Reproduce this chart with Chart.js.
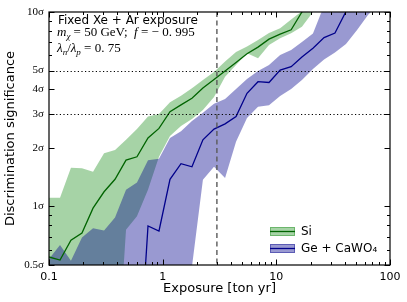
<!DOCTYPE html>
<html>
<head>
<meta charset="utf-8">
<script src="https://cdn.jsdelivr.net/npm/chart.js@4.4.1/dist/chart.umd.min.js"></script>
<style>
  html, body { margin: 0; padding: 0; background: #fff; }
  #wrap { width: 407px; height: 302px; }
</style>
</head>
<body>
<div id="wrap"><canvas id="chart" width="407" height="302"></canvas></div>
<script>
// exposure grid [ton yr], log spaced
const exposure = [0.1, 0.125, 0.156, 0.195, 0.244, 0.305, 0.381, 0.476, 0.594, 0.743,
  0.928, 1.16, 1.45, 1.81, 2.26, 2.83, 3.54, 4.42, 5.52, 6.90,
  8.62, 10.8, 13.5, 16.8, 21.0, 26.3, 32.8, 41.0, 51.3, 64.0, 80.0, 100];

// Si band (significance in sigma)
const siHigh = [1.11, 1.11, 1.58, 1.57, 1.51, 1.88, 1.95, 2.20, 2.50, 2.90,
  2.99, 3.43, 3.71, 4.05, 4.47, 4.92, 5.57, 6.23, 6.65, 7.18,
  7.80, 8.25, 9.15, 10.1, 11.5, 13.0];
const siMedian = [0.55, 0.53, 0.67, 0.73, 0.98, 1.19, 1.38, 1.73, 1.80, 2.25,
  2.52, 3.07, 3.33, 3.60, 4.07, 4.50, 4.97, 5.50, 6.10, 6.60,
  7.25, 7.70, 8.10, 10.0, 11.5, 13.0];
const siLow = [0.3, 0.3, 0.3, 0.3, 0.3, 0.3, 0.1, 0.76, 0.89, 1.22,
  1.80, 2.30, 2.59, 2.82, 3.13, 3.66, 4.65, 5.34, 6.13, 5.78,
  6.77, 7.33, 7.77, 8.40, 10.0, 11.5];

// Ge + CaWO4 band
const geHigh = [0.537, 0.634, 0.526, 0.693, 0.773, 0.753, 0.878, 1.22, 1.33, 1.73,
  1.76, 2.25, 2.44, 2.75, 3.03, 3.37, 3.57, 4.02, 4.52, 4.97,
  5.34, 6.01, 6.38, 7.01, 7.75, 10.8, 12.0, 13.5, 15.0, 17.0, 19.0, 21.0];
const geMedian = [0.3, 0.3, 0.3, 0.3, 0.3, 0.3, 0.3, 0.3, 0.1, 0.794,
  0.748, 1.38, 1.66, 1.60, 2.20, 2.50, 2.66, 2.90, 3.82, 4.38,
  4.34, 5.03, 5.23, 5.87, 6.51, 7.39, 7.80, 10.06, 11.5, 13.0, 14.5, 16.0];
const geLow = [0.3, 0.3, 0.3, 0.3, 0.3, 0.3, 0.3, 0.3, 0.3, 0.3,
  0.3, 0.3, 0.1, 0.49, 1.37, 1.60, 1.40, 2.15, 2.85, 3.26,
  3.31, 3.70, 4.02, 4.47, 5.09, 5.70, 6.19, 6.85, 8.08, 9.65, 11.0, 13.0];

const xTicks = [0.1, 1, 10, 100];
const xTickLabels = ['0.1', '1', '10', '100'];
const xMinor = [0.2, 0.3, 0.4, 0.5, 0.6, 0.7, 0.8, 0.9, 2, 3, 4, 5, 6, 7, 8, 9, 20, 30, 40, 50, 60, 70, 80, 90];
const yTicks = [0.5, 1, 2, 3, 4, 5, 10];
const yTickLabels = ['0.5σ', '1σ', '2σ', '3σ', '4σ', '5σ', '10σ'];
const yMinor = [0.6, 0.7, 0.8, 0.9, 6, 7, 8, 9];
const sigmaLines = [3, 5];
const refExposure = 3;

const siFill = 'rgba(0,128,0,0.35)';
const geFill = 'rgba(0,0,139,0.4)';
const siLine = '#006400';
const geLine = '#00008b';

const pts = (ys) => ys.map((v, i) => ({ x: exposure[i], y: v }));

const overlay = {
  id: 'overlay',
  afterDatasetsDraw(chart) {
    const { ctx, chartArea: a, scales: { x, y } } = chart;
    ctx.save();
    ctx.beginPath();
    ctx.rect(a.left, a.top, a.right - a.left, a.bottom - a.top);
    ctx.clip();
    ctx.strokeStyle = '#000';
    ctx.lineWidth = 1.1;
    ctx.setLineDash([1.2, 2.4]);
    sigmaLines.forEach(v => {
      const py = Math.round(y.getPixelForValue(v)) + 0.5;
      ctx.beginPath(); ctx.moveTo(a.left, py); ctx.lineTo(a.right, py); ctx.stroke();
    });
    ctx.strokeStyle = '#5a5a5a';
    ctx.lineWidth = 1.4;
    ctx.setLineDash([5, 3.5]);
    const px = x.getPixelForValue(refExposure);
    ctx.beginPath(); ctx.moveTo(px, a.top); ctx.lineTo(px, a.bottom); ctx.stroke();
    ctx.restore();
  },
  afterDraw(chart) {
    const { ctx, chartArea: a, scales: { x, y } } = chart;
    ctx.save();
    // frame
    ctx.strokeStyle = '#000';
    ctx.lineWidth = 1.2;
    ctx.strokeRect(a.left, a.top, a.right - a.left, a.bottom - a.top);
    // inward ticks on all sides
    ctx.lineWidth = 1;
    const vt = (v, len) => {
      const p = Math.round(x.getPixelForValue(v)) + 0.5;
      ctx.beginPath();
      ctx.moveTo(p, a.bottom); ctx.lineTo(p, a.bottom - len);
      ctx.moveTo(p, a.top); ctx.lineTo(p, a.top + len);
      ctx.stroke();
    };
    const ht = (v, len) => {
      const p = Math.round(y.getPixelForValue(v)) + 0.5;
      ctx.beginPath();
      ctx.moveTo(a.left, p); ctx.lineTo(a.left + len, p);
      ctx.moveTo(a.right, p); ctx.lineTo(a.right - len, p);
      ctx.stroke();
    };
    xTicks.forEach(v => vt(v, 5.5));
    xMinor.forEach(v => vt(v, 3));
    yTicks.forEach(v => ht(v, 5.5));
    yMinor.forEach(v => ht(v, 3));

    // annotation text
    ctx.fillStyle = '#000';
    ctx.textBaseline = 'alphabetic';
    ctx.textAlign = 'left';
    ctx.font = '12px "DejaVu Sans"';
    ctx.fillText('Fixed Xe + Ar exposure', 58, 23.5);
    const serif = '"Liberation Serif"';
    const runs = (list, x0, y0) => {
      let cx = x0;
      list.forEach(r => {
        ctx.font = (r.i ? 'italic ' : '') + (r.s ? 9 : 13) + 'px ' + serif;
        ctx.fillText(r.t, cx, y0 + (r.s ? 3 : 0));
        cx += ctx.measureText(r.t).width;
      });
    };
    runs([{ t: 'm', i: 1 }, { t: 'χ', i: 1, s: 1 }, { t: ' = 50 GeV;  ' }, { t: 'f', i: 1 },
      { t: ' = − 0. 995' }], 57, 35.5);
    runs([{ t: 'λ', i: 1 }, { t: 'n', i: 1, s: 1 }, { t: '/' }, { t: 'λ', i: 1 }, { t: 'p', i: 1, s: 1 },
      { t: ' = 0. 75' }], 57, 51.5);

    // legend
    const items = [
      { label: 'Si', fill: siFill, line: siLine, y: 227 },
      { label: 'Ge + CaWO₄', fill: geFill, line: geLine, y: 244 }
    ];
    ctx.font = '12px "DejaVu Sans"';
    ctx.textBaseline = 'middle';
    items.forEach(it => {
      ctx.fillStyle = it.fill;
      ctx.fillRect(270, it.y, 25, 9);
      ctx.strokeStyle = it.fill;
      ctx.lineWidth = 1;
      ctx.strokeRect(270.5, it.y + 0.5, 24, 8);
      ctx.strokeStyle = it.line;
      ctx.lineWidth = 1.3;
      ctx.beginPath(); ctx.moveTo(270, it.y + 4.5); ctx.lineTo(295, it.y + 4.5); ctx.stroke();
      ctx.fillStyle = '#000';
      ctx.fillText(it.label, 301, it.y + 5);
    });
    ctx.restore();
  }
};

new Chart(document.getElementById('chart'), {
  type: 'line',
  data: {
    datasets: [
      { data: pts(siHigh), fill: 1, backgroundColor: siFill, borderColor: 'rgba(0,0,0,0)', borderWidth: 0, order: 4 },
      { data: pts(siLow), fill: false, borderColor: 'rgba(0,0,0,0)', borderWidth: 0, order: 4 },
      { data: pts(geHigh), fill: 3, backgroundColor: geFill, borderColor: 'rgba(0,0,0,0)', borderWidth: 0, order: 3 },
      { data: pts(geLow), fill: false, borderColor: 'rgba(0,0,0,0)', borderWidth: 0, order: 3 },
      { data: pts(siMedian), fill: false, borderColor: siLine, borderWidth: 1.3, order: 2 },
      { data: pts(geMedian), fill: false, borderColor: geLine, borderWidth: 1.3, order: 1 }
    ]
  },
  options: {
    responsive: false,
    animation: false,
    devicePixelRatio: 1,
    layout: { padding: { top: 12, right: 17, left: 0, bottom: 0 } },
    elements: { point: { radius: 0 }, line: { tension: 0 } },
    plugins: { legend: { display: false }, tooltip: { enabled: false } },
    scales: {
      x: {
        type: 'logarithmic', min: 0.1, max: 100,
        grid: { display: false, drawTicks: false },
        border: { display: false },
        afterBuildTicks: s => { s.ticks = xTicks.map(v => ({ value: v })); },
        afterFit: s => { s.height = 37; },
        ticks: {
          callback: (v, i) => xTickLabels[i],
          font: { family: 'DejaVu Sans', size: 11 }, color: '#000',
          padding: 6, maxRotation: 0, autoSkip: false
        },
        title: {
          display: true, text: 'Exposure [ton yr]', color: '#000',
          font: { family: 'DejaVu Sans', size: 13, lineHeight: 1.2 },
          padding: { top: 0, bottom: 6 }
        }
      },
      y: {
        type: 'logarithmic', min: 0.5, max: 10,
        grid: { display: false, drawTicks: false },
        border: { display: false },
        afterBuildTicks: s => { s.ticks = yTicks.map(v => ({ value: v })); },
        afterFit: s => { s.width = 49; },
        ticks: {
          callback: (v, i) => yTickLabels[i],
          font: { family: 'Liberation Serif', size: 11 }, color: '#000',
          padding: 5, autoSkip: false
        },
        title: {
          display: true, text: 'Discrimination significance', color: '#000',
          font: { family: 'DejaVu Sans', size: 13, lineHeight: 1.2 },
          padding: { top: 3, bottom: 0 }
        }
      }
    }
  },
  plugins: [overlay]
});
</script>
</body>
</html>
